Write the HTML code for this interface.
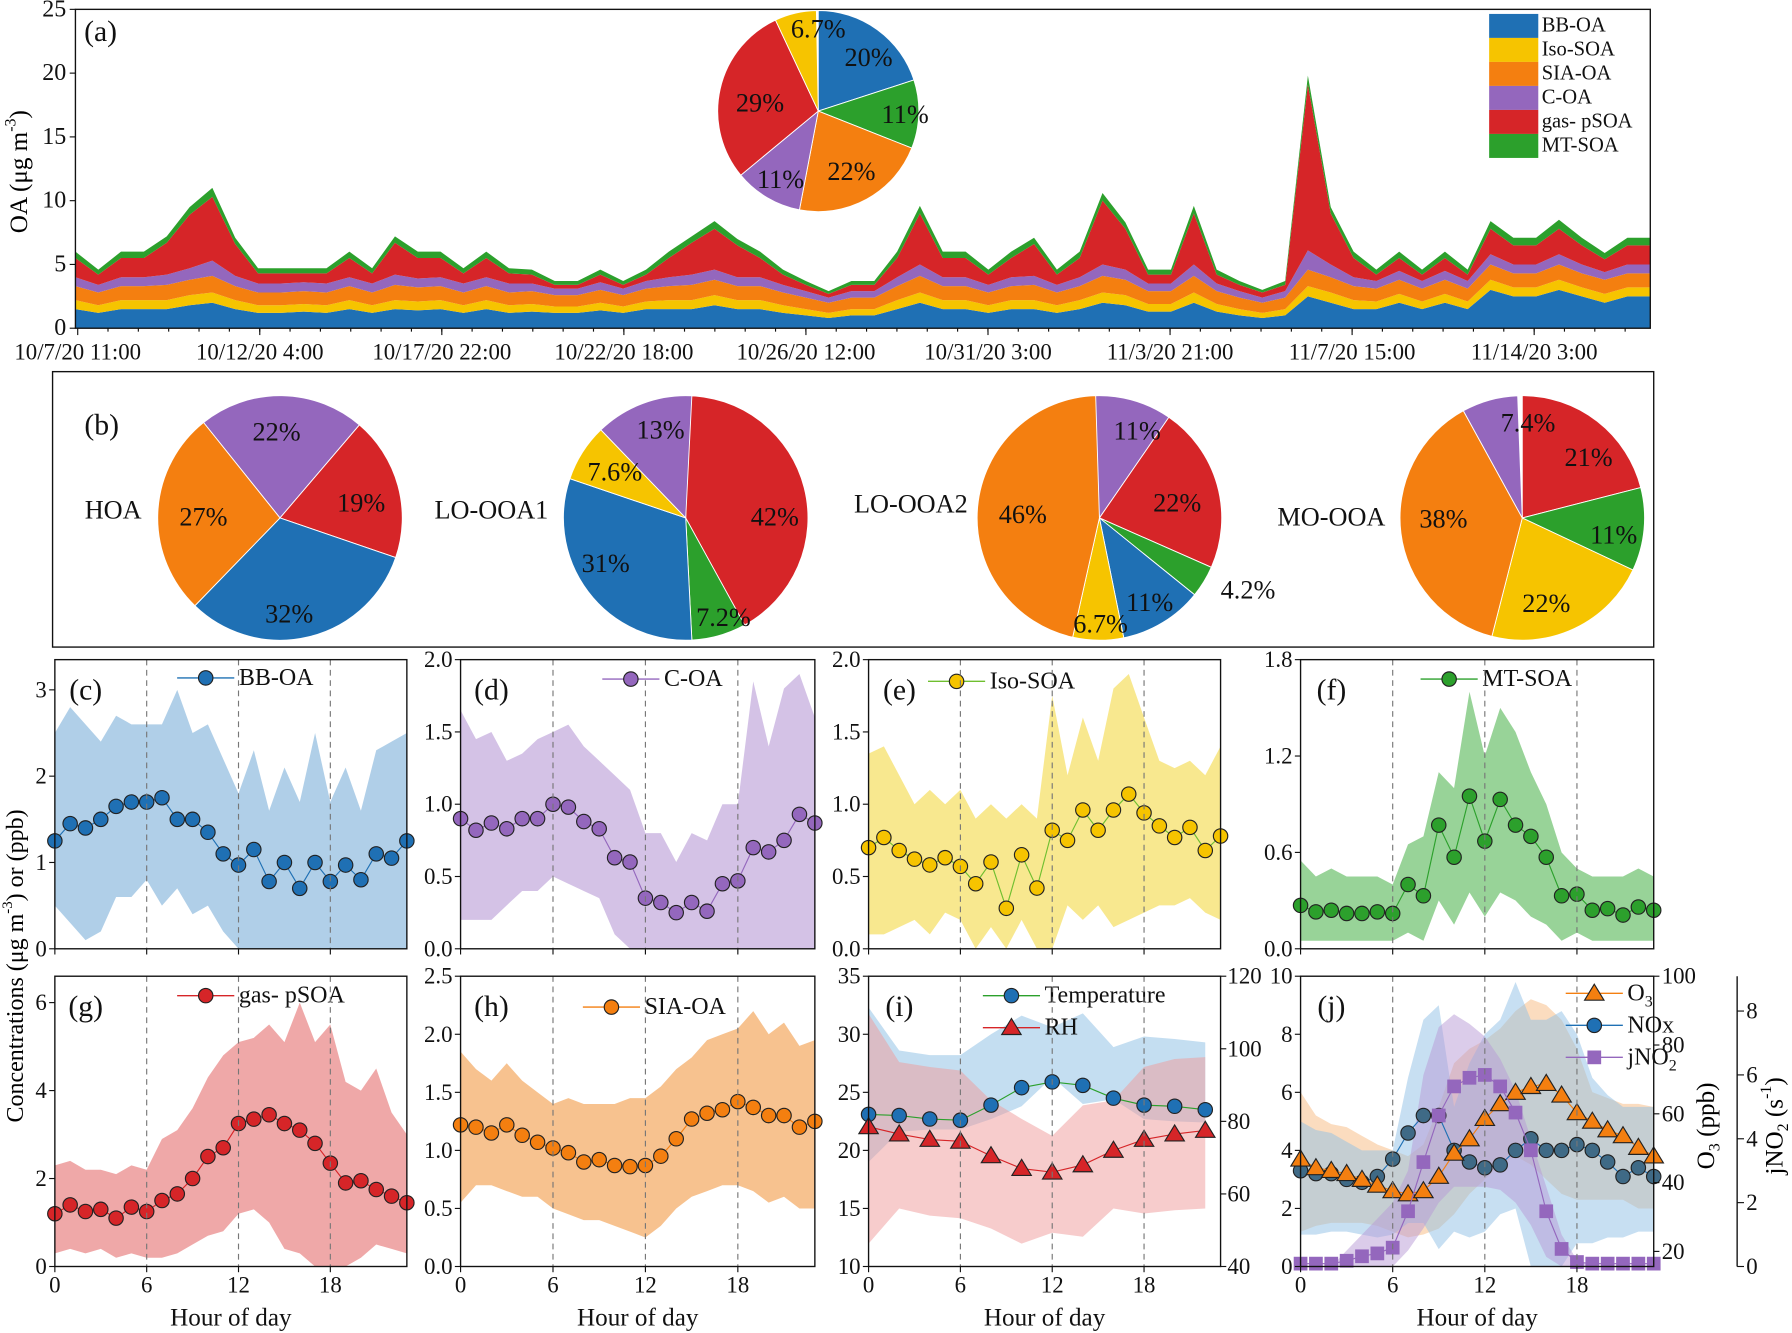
<!DOCTYPE html>
<html><head><meta charset="utf-8"><style>
html,body{margin:0;padding:0;background:#fff}
svg{display:block}
text,tspan{font-family:"Liberation Serif","Times New Roman",serif}
</style></head><body>
<svg id="chart" width="1792" height="1333" viewBox="0 0 1568 1166" xmlns="http://www.w3.org/2000/svg" font-family="Liberation Serif, serif"></svg>
<script>
// ---------- Panel (a) time series data (µg m-3), bottom to top ----------
const tsLabels=["10/7/20 11:00","10/12/20 4:00","10/17/20 22:00","10/22/20 18:00","10/26/20 12:00","10/31/20 3:00","11/3/20 21:00","11/7/20 15:00","11/14/20 3:00"];
const tsBB=[1.5,1.2,1.5,1.5,1.5,1.8,2,1.5,1.2,1.2,1.3,1.2,1.5,1.2,1.5,1.4,1.5,1.2,1.5,1.2,1.3,1.2,1.2,1.4,1.2,1.5,1.5,1.5,1.8,1.5,1.5,1.2,1,0.8,1,1,1.5,2,1.5,1.5,1.2,1.5,1.5,1.2,1.5,2,1.8,1.3,1.3,2,1.3,1,0.8,1,2.5,2,1.5,1.5,2,1.5,2,1.5,3,2.5,2.5,3,2.5,2,2.5,2.5];
const tsIso=[0.7,0.6,0.7,0.7,0.7,0.8,0.8,0.7,0.6,0.6,0.6,0.6,0.7,0.6,0.7,0.7,0.7,0.6,0.7,0.6,0.6,0.5,0.5,0.6,0.5,0.6,0.7,0.7,0.8,0.7,0.7,0.6,0.5,0.4,0.5,0.5,0.7,0.8,0.7,0.7,0.6,0.7,0.7,0.6,0.7,0.8,0.8,0.6,0.6,0.8,0.6,0.5,0.4,0.5,0.8,0.8,0.7,0.6,0.7,0.6,0.7,0.6,0.8,0.7,0.7,0.8,0.7,0.7,0.7,0.7];
const tsSIA=[1.1,1.0,1.1,1.1,1.2,1.2,1.3,1.1,1.0,1.0,1.0,1.0,1.1,1.0,1.2,1.1,1.1,1.0,1.1,1.0,1.0,0.9,0.9,1.0,0.9,1.0,1.1,1.2,1.2,1.1,1.1,1.0,0.9,0.8,0.9,0.9,1.1,1.3,1.1,1.1,1.0,1.1,1.2,1.0,1.1,1.3,1.2,1.0,1.0,1.3,1.0,0.9,0.8,0.9,1.3,1.2,1.1,1.0,1.1,1.0,1.1,1.0,1.2,1.1,1.1,1.2,1.1,1.1,1.1,1.1];
const tsCOA=[0.7,0.6,0.7,0.7,0.8,0.9,1.2,0.8,0.7,0.7,0.7,0.7,0.7,0.7,0.8,0.7,0.7,0.7,0.7,0.7,0.6,0.5,0.5,0.6,0.5,0.6,0.7,0.8,0.8,0.7,0.7,0.6,0.5,0.4,0.5,0.5,0.7,0.9,0.7,0.7,0.6,0.7,0.7,0.6,0.7,0.9,0.8,0.6,0.6,0.9,0.6,0.5,0.4,0.5,1.5,1.0,0.7,0.6,0.7,0.6,0.7,0.6,0.8,0.7,0.7,0.8,0.7,0.6,0.7,0.7];
const tsGas=[1.5,0.8,1.5,1.5,2.5,4.2,5,2.5,0.8,0.8,0.7,0.8,1.5,0.8,2.5,1.6,1.5,0.8,1.5,0.8,0.7,0.3,0.3,0.6,0.3,0.5,1.5,2.5,3.2,2.5,1.5,0.8,0.5,0.3,0.5,0.5,1.5,4,1.5,1.5,0.8,1.5,2.5,0.8,1.5,5,3.2,0.7,0.7,4,0.7,0.5,0.4,0.5,13,4,1.5,0.5,1,0.5,1,0.5,2,1.5,1.5,2,1.5,1,1.5,1.5];
const tsMT=[0.5,0.4,0.5,0.5,0.5,0.6,0.7,0.5,0.4,0.4,0.4,0.4,0.5,0.4,0.5,0.5,0.5,0.4,0.5,0.4,0.4,0.3,0.3,0.4,0.3,0.4,0.5,0.5,0.6,0.5,0.5,0.4,0.3,0.2,0.3,0.3,0.5,0.6,0.5,0.5,0.4,0.5,0.5,0.4,0.5,0.6,0.5,0.4,0.4,0.6,0.4,0.3,0.2,0.3,0.7,0.5,0.5,0.4,0.5,0.4,0.5,0.4,0.6,0.6,0.6,0.7,0.6,0.5,0.6,0.6];

// ---------- Pie data (%) ----------
const pieNames=["BB-OA","Iso-SOA","SIA-OA","C-OA","gas- pSOA","MT-SOA"];
const pieColors=["#1f70b4","#f6c400","#f47f10","#9467bd","#d62528","#2ca02c"];
const pieA=[20,6.7,22,11,29,11];
const pieHOA=[32,0,27,22,19,0];
const pieLO1=[31,7.6,0,13,42,7.2];
const pieLO2=[11,6.7,46,11,22,4.2];
const pieMO=[0,22,38,7.4,21,11];

// ---------- Diurnal data ----------
const hours=[0,1,2,3,4,5,6,7,8,9,10,11,12,13,14,15,16,17,18,19,20,21,22,23];
const bbMean=[1.25,1.45,1.4,1.5,1.65,1.7,1.7,1.75,1.5,1.5,1.35,1.1,0.97,1.15,0.78,1.0,0.7,1.0,0.78,0.97,0.8,1.1,1.05,1.25];
const bbUp=[2.5,2.8,2.6,2.4,2.7,2.6,2.6,2.6,3.0,2.5,2.6,2.2,1.8,2.3,1.6,2.1,1.7,2.5,1.7,2.1,1.6,2.3,2.4,2.5];
const bbLo=[0.5,0.3,0.1,0.2,0.6,0.6,0.8,0.5,0.7,0.4,0.5,0.2,0,0,0,0,0,0,0,0,0,0,0,0];
const coaMean=[0.9,0.82,0.87,0.83,0.9,0.9,1.0,0.98,0.88,0.83,0.63,0.6,0.35,0.32,0.25,0.32,0.26,0.45,0.47,0.7,0.67,0.75,0.93,0.87];
const coaUp=[1.65,1.45,1.5,1.3,1.35,1.45,1.5,1.55,1.4,1.3,1.2,1.1,0.8,0.8,0.6,0.8,0.75,1.0,1.0,1.85,1.4,1.8,1.9,1.6];
const coaLo=[0.2,0.2,0.2,0.3,0.4,0.4,0.5,0.45,0.4,0.35,0.1,0,0,0,0,0,0,0,0,0,0,0,0,0];
const isoMean=[0.7,0.77,0.68,0.62,0.58,0.63,0.57,0.45,0.6,0.28,0.65,0.42,0.82,0.75,0.96,0.82,0.96,1.07,0.94,0.85,0.77,0.84,0.68,0.78];
const isoUp=[1.35,1.4,1.2,1.0,1.1,1.0,1.1,0.9,1.0,0.9,1.0,0.9,1.75,1.2,1.6,1.3,1.8,1.9,1.6,1.3,1.25,1.3,1.2,1.4];
const isoLo=[0.1,0.1,0.15,0.2,0.1,0.25,0.2,0,0.15,0,0.2,0,0,0.3,0.2,0.3,0.15,0.2,0.25,0.3,0.3,0.35,0.25,0.2];
const mtMean=[0.27,0.23,0.24,0.22,0.22,0.23,0.22,0.4,0.33,0.77,0.57,0.95,0.67,0.93,0.77,0.7,0.57,0.33,0.34,0.24,0.25,0.21,0.26,0.24];
const mtUp=[0.55,0.45,0.5,0.45,0.45,0.45,0.4,0.65,0.7,1.1,1.0,1.6,1.2,1.5,1.35,1.1,0.9,0.6,0.5,0.45,0.45,0.45,0.5,0.45];
const mtLo=[0.05,0.05,0.05,0.05,0.05,0.05,0.05,0.1,0.05,0.3,0.15,0.35,0.2,0.35,0.3,0.2,0.15,0.05,0.1,0.05,0.05,0.05,0.05,0.05];
const gasMean=[1.2,1.4,1.25,1.3,1.1,1.35,1.25,1.5,1.65,2.0,2.5,2.7,3.25,3.35,3.45,3.25,3.1,2.8,2.35,1.9,1.95,1.75,1.6,1.45];
const gasUp=[2.3,2.4,2.2,2.2,2.1,2.3,2.2,2.9,3.1,3.6,4.3,4.8,5.1,5.2,5.5,5.1,6.0,5.1,5.5,4.2,4.0,4.5,3.5,3.0];
const gasLo=[0.3,0.4,0.3,0.4,0.2,0.3,0.2,0.2,0.3,0.5,0.7,0.8,1.2,1.3,1.0,0.4,0.3,0,0,0,0.2,0.5,0.4,0.3];
const siaMean=[1.22,1.2,1.15,1.22,1.13,1.07,1.02,0.98,0.9,0.92,0.87,0.86,0.87,0.95,1.1,1.27,1.32,1.35,1.42,1.37,1.3,1.3,1.2,1.25];
const siaUp=[1.85,1.7,1.6,1.75,1.6,1.5,1.4,1.45,1.4,1.4,1.4,1.45,1.45,1.55,1.7,1.8,1.95,2.0,2.05,2.2,2.0,2.1,1.9,1.95];
const siaLo=[0.55,0.7,0.7,0.65,0.6,0.6,0.5,0.45,0.4,0.4,0.35,0.3,0.25,0.35,0.5,0.6,0.65,0.7,0.7,0.65,0.55,0.6,0.5,0.5];
const metHours=[0,2,4,6,8,10,12,14,16,18,20,22];
const tempMean=[23.1,23,22.7,22.6,23.9,25.4,25.9,25.6,24.5,23.9,23.8,23.5];
const tempUp=[32.3,28.6,28.2,28.2,30,31.6,30.6,31.8,28.9,29.8,29.6,29.3];
const tempLo=[19,21.6,21.8,21.8,22.7,23.8,26.3,24,24.4,22.7,22.5,22.4];
const rhMean=[78.5,76.5,75,74.5,70.5,67,66,68,72,75,76.5,77.5];
const rhUp=[109.6,96.3,95,94,85.8,80.7,76,84.4,85.8,95,97.2,97.7];
const rhLo=[46.3,56,54,53.3,50.5,46.3,49.3,48.2,56,54.6,55.5,56];
const o3Mean=[46.8,44.3,43.5,42.6,40.9,39.2,37.6,36.7,37.6,41.8,48.5,52.7,58.6,62.9,66.2,67.9,68.8,65.4,60.3,57.8,55.3,53.6,50.2,47.7];
const o3Up=[66.3,59.5,57,56.1,53.6,51.1,49.4,47.7,51.1,62,74.7,78.9,81.4,84.8,89.9,93.3,91.6,87.3,78.9,66.3,64.6,62.9,62.9,62];
const o3Lo=[25.7,27.4,28.3,28.3,28.3,27.4,25.7,24.1,24.9,26.6,30.8,36.7,40.9,45.2,47.7,45.2,40.9,36.7,35,35,35,35,32.5,32.5];
const noxMean=[3.3,3.2,3.2,3.0,2.9,3.1,3.7,4.6,5.2,5.2,4.0,3.6,3.4,3.5,4.0,4.4,4.0,4.0,4.2,4.0,3.6,3.1,3.4,3.1];
const noxUp=[5,4.7,4.6,4.3,4.0,4.0,4.0,6.5,8.5,9.0,5.5,7,8,8.5,9.8,8.5,8.5,8.8,8.0,6.5,5.9,5.5,5.5,5.5];
const noxLo=[1.1,1.1,1.2,1.2,1.1,1.0,1.1,1.5,1.5,0.6,1.2,1.0,1.2,1.8,2.0,0,0,0,0.8,0.8,1.0,1.0,1.2,1.2];
const jMean=[0.09,0.09,0.09,0.18,0.32,0.41,0.59,1.73,3.27,4.73,5.64,5.91,6.0,5.64,4.82,3.64,1.73,0.55,0.14,0.09,0.09,0.09,0.09,0.09];
const jUp=[0,0,0,0.5,1.0,1.5,2.0,3,6,7.5,7.9,7.6,7.2,6.5,5.5,4,2.5,1,0.2,0,0,0,0,0];
const jLo=[0,0,0,0,0,0,0,0.5,1.2,2,2.5,2.5,2.5,2.4,2,1.3,0.3,0,0,0,0,0,0,0];

const NS='http://www.w3.org/2000/svg';
const svg=document.getElementById('chart');
function mk(tag,attrs,parent){const e=document.createElementNS(NS,tag);for(const k in attrs)e.setAttribute(k,attrs[k]);(parent||svg).appendChild(e);return e;}
function txt(s,x,y,size,anchor,parent){const t=mk('text',{x:x,y:y,'font-size':size,'text-anchor':anchor||'middle','dominant-baseline':'central',fill:'#111','font-family':'Liberation Serif, serif'},parent);t.textContent=s;return t;}

// ================= Panel (a) =================
const A={x0:66,x1:1444,y0:8,y1:287};
const ga=mk('g',{});


const ax=i=>A.x0+i*(A.x1-A.x0)/(tsBB.length-1);
const ay=v=>A.y1-v*(A.y1-A.y0)/25;
const layers=[tsBB,tsIso,tsSIA,tsCOA,tsGas,tsMT];
const layerNames=['bb-oa-area','iso-soa-area','sia-oa-area','c-oa-area','gas-psoa-area','mt-soa-area'];
let cum=tsBB.map(()=>0);
layers.forEach((arr,k)=>{
  const top=cum.map((c,i)=>c+arr[i]);
  let pts=[];
  top.forEach((v,i)=>pts.push(ax(i).toFixed(1)+','+ay(v).toFixed(1)));
  for(let i=cum.length-1;i>=0;i--)pts.push(ax(i).toFixed(1)+','+ay(cum[i]).toFixed(1));
  const p=mk('polygon',{points:pts.join(' '),fill:pieColors[k]},ga);
  
  
  cum=top;
});
const fa=mk('rect',{x:A.x0,y:A.y0,width:A.x1-A.x0,height:A.y1-A.y0,fill:'none',stroke:'#111','stroke-width':1.2},ga);


[0,5,10,15,20,25].forEach(v=>{
  mk('line',{x1:A.x0-5,x2:A.x0,y1:ay(v),y2:ay(v),stroke:'#111'},ga);
  const t=txt(String(v),A.x0-8,ay(v),21,'end',ga);
  
  
});
tsLabels.forEach((s,i)=>{
  const x=68+i*159.3;
  mk('line',{x1:x,x2:x,y1:A.y1,y2:A.y1+6,stroke:'#111'},ga);
  const t=txt(s,x,308,20,'middle',ga);
  
  
});
for(let x=68+26.5;x<A.x1;x+=26.55){mk('line',{x1:x,x2:x,y1:A.y1,y2:A.y1+3,stroke:'#111'},ga);}
const ayt=mk('text',{x:0,y:0,'font-size':22,'text-anchor':'middle','dominant-baseline':'central','font-family':'Liberation Serif, serif',transform:'translate(17,150) rotate(-90)'},ga);
ayt.innerHTML='OA (μg m<tspan baseline-shift="super" font-size="14">-3</tspan>)';


const la=txt('(a)',88,28,26,'middle',ga);


pieNames.forEach((n,k)=>{
  const r=mk('rect',{x:1303,y:12+k*21,width:43,height:21,fill:pieColors[k]},ga);
  
  
  const t=txt(n,1349,22+k*21,18,'start',ga);
  
  
});

// ================= Pies =================
function pieOrdered(name,cx,cy,r,start,order,vals,labels){
  const g=mk('g',{});
  
  
  let a=start;
  order.forEach(k=>{
    const v=vals[k];
    if(v<=0)return;
    const a2=a+v*3.6;
    const rad=d=>d*Math.PI/180;
    const x1=cx+r*Math.sin(rad(a)),y1=cy-r*Math.cos(rad(a));
    const x2=cx+r*Math.sin(rad(a2)),y2=cy-r*Math.cos(rad(a2));
    const large=(a2-a)>180?1:0;
    const p=mk('path',{d:`M${cx},${cy} L${x1.toFixed(2)},${y1.toFixed(2)} A${r},${r} 0 ${large} 1 ${x2.toFixed(2)},${y2.toFixed(2)} Z`,fill:pieColors[k],stroke:'#fff','stroke-width':0.8},g);
    
    
    a=a2;
  });
  labels.forEach(l=>{
    const t=txt(l[0],l[1],l[2],23,'middle',g);
    
    
  });
  return g;
}
pieOrdered('pie-total-oa',716,97,88,0,[0,5,2,3,4,1],pieA,[['20%',760,50],['11%',792,100],['22%',745,150],['11%',683,157],['29%',665,90],['6.7%',716,25]]);
const fb=mk('rect',{x:46,y:325,width:1401,height:241,fill:'none',stroke:'#111','stroke-width':1.2});


const lb=txt('(b)',89,372,26);


pieOrdered('pie-hoa',245,453,107,-38.7,[3,4,0,2],pieHOA,[['22%',242,378],['19%',316,440],['32%',253,537],['27%',178,452]]);
pieOrdered('pie-lo-ooa1',600,453,107,0,[4,5,0,1,3],pieLO1,[['13%',578,376],['42%',678,452],['7.2%',633,540],['31%',530,493],['7.6%',538,413]]);
pieOrdered('pie-lo-ooa2',962,453,107,-5,[3,4,5,0,1,2],pieLO2,[['11%',995,377],['22%',1030,440],['4.2%',1092,516],['11%',1006,527],['6.7%',963,546],['46%',895,450]]);
pieOrdered('pie-mo-ooa',1332,453,107,0,[4,5,1,2,3],pieMO,[['7.4%',1337,370],['21%',1390,400],['11%',1412,468],['22%',1353,528],['38%',1263,454]]);
[['HOA',99,446],['LO-OOA1',430,446],['LO-OOA2',797,441],['MO-OOA',1165,452]].forEach(l=>{
  const t=txt(l[0],l[1],l[2],23);
  
  
});

// ================= Diurnal panels =================
function panel(name,letter,bx,by,bw,bh,ymin,ymax,ticks,showX){
  const g=mk('g',{});
  
  
  const sx=h=>bx+h/23*bw;
  const sy=v=>by+bh-(v-ymin)/(ymax-ymin)*bh;
  return {g,sx,sy,bx,by,bw,bh,letter,ticks,showX};
}
function finish(P,fmt){
  const {g,sx,sy,bx,by,bw,bh}=P;
  [6,12,18].forEach(h=>{
    const l=mk('line',{x1:sx(h),x2:sx(h),y1:by,y2:by+bh,stroke:'#777','stroke-dasharray':'5,4','stroke-width':1},g);
    
    
  });
  const f=mk('rect',{x:bx,y:by,width:bw,height:bh,fill:'none',stroke:'#111','stroke-width':1.2},g);
  
  
  P.ticks.forEach(v=>{
    mk('line',{x1:bx-5,x2:bx,y1:sy(v),y2:sy(v),stroke:'#111'},g);
    const t=txt(fmt(v),bx-7,sy(v),20,'end',g);
    
    
  });
  [0,6,12,18].forEach(h=>{
    mk('line',{x1:sx(h),x2:sx(h),y1:by+bh,y2:by+bh+5,stroke:'#111'},g);
    if(P.showX){
      const t=txt(String(h),sx(h),by+bh+16,20,'middle',g);
      
      
    }
  });
  if(P.showX){
    const t=txt('Hour of day',bx+bw/2,by+bh+45,22,'middle',g);
    
    
  }
  const lt=txt(P.letter,bx+27,by+27,26,'middle',g);
  
  
}
function band(P,hs,up,lo,sy,color,op){
  let pts=hs.map((h,i)=>P.sx(h).toFixed(1)+','+sy(up[i]).toFixed(1));
  for(let i=hs.length-1;i>=0;i--)pts.push(P.sx(hs[i]).toFixed(1)+','+sy(lo[i]).toFixed(1));
  const p=mk('polygon',{points:pts.join(' '),fill:color,'fill-opacity':op,stroke:'none'},P.g);
  
  
}
function marker(g,shape,x,y,fill){
  let m;
  if(shape==='c')m=mk('circle',{cx:x,cy:y,r:6.3,fill:fill,stroke:'#222','stroke-width':1},g);
  else if(shape==='t')m=mk('polygon',{points:`${x},${y-8} ${x-8.5},${y+6} ${x+8.5},${y+6}`,fill:fill,stroke:'#222','stroke-width':1},g);
  else m=mk('rect',{x:x-6,y:y-6,width:12,height:12,fill:fill,stroke:'none'},g);
  return m;
}
function series(P,hs,vals,sy,lineColor,shape,fill){
  const d=hs.map((h,i)=>(i?'L':'M')+P.sx(h).toFixed(1)+','+sy(vals[i]).toFixed(1)).join(' ');
  const l=mk('path',{d:d,fill:'none',stroke:lineColor,'stroke-width':1},P.g);
  
  
  hs.forEach((h,i)=>{
    const m=marker(P.g,shape,P.sx(h),sy(vals[i]),fill);
    
    
  });
}
function legend(P,x,y,s,lineColor,shape,fill){
  const l=mk('line',{x1:x,x2:x+50,y1:y,y2:y,stroke:lineColor,'stroke-width':1.2},P.g);
  
  
  const m=marker(P.g,shape,x+25,y,fill);
  
  
  const t=mk('text',{x:x+54,y:y,'font-size':21,'dominant-baseline':'central',fill:'#111','font-family':'Liberation Serif, serif'},P.g);
  t.innerHTML=s;
  
  
}
const f1=v=>v.toFixed(1), f0=v=>String(v);
const rowTop=577,rowH=253,row2=854,row2H=254;
let P=panel('panel-c-bb-oa','(c)',48,rowTop,308,rowH,0,3.35,[0,1,2,3],false);
band(P,hours,bbUp,bbLo,P.sy,'#6fa8d6',0.55);
series(P,hours,bbMean,P.sy,'#1f70b4','c','#1f70b4');
legend(P,155,593,'BB-OA','#1f70b4','c','#1f70b4');finish(P,f0);
P=panel('panel-d-c-oa','(d)',403,rowTop,310,rowH,0,2.0,[0,0.5,1,1.5,2],false);
band(P,hours,coaUp,coaLo,P.sy,'#b79ad6',0.6);
series(P,hours,coaMean,P.sy,'#9467bd','c','#9467bd');
legend(P,527,594,'C-OA','#9467bd','c','#9467bd');finish(P,f1);
P=panel('panel-e-iso-soa','(e)',760,rowTop,308,rowH,0,2.0,[0,0.5,1,1.5,2],false);
band(P,hours,isoUp,isoLo,P.sy,'#f5e06a',0.75);
series(P,hours,isoMean,P.sy,'#6fbf2f','c','#f6c400');
legend(P,812,596,'Iso-SOA','#6fbf2f','c','#f6c400');finish(P,f1);
P=panel('panel-f-mt-soa','(f)',1138,rowTop,309,rowH,0,1.8,[0,0.6,1.2,1.8],false);
band(P,hours,mtUp,mtLo,P.sy,'#6cc06c',0.7);
series(P,hours,mtMean,P.sy,'#2ca02c','c','#2ca02c');
legend(P,1243,594,'MT-SOA','#2ca02c','c','#2ca02c');finish(P,f1);
P=panel('panel-g-gas-psoa','(g)',48,row2,308,row2H,0,6.6,[0,2,4,6],true);
band(P,hours,gasUp,gasLo,P.sy,'#e77a7a',0.65);
series(P,hours,gasMean,P.sy,'#d62528','c','#d62528');
legend(P,155,871,'gas- pSOA','#d62528','c','#d62528');finish(P,f0);
P=panel('panel-h-sia-oa','(h)',403,row2,310,row2H,0,2.5,[0,0.5,1,1.5,2,2.5],true);
band(P,hours,siaUp,siaLo,P.sy,'#f3a860',0.7);
series(P,hours,siaMean,P.sy,'#f47f10','c','#f47f10');
legend(P,510,881,'SIA-OA','#f47f10','c','#f47f10');finish(P,f1);
P=panel('panel-i-met','(i)',760,row2,308,row2H,10,35,[10,15,20,25,30,35],true);
const syRH=v=>P.by+P.bh-(v-40)/80*P.bh;
band(P,metHours,tempUp,tempLo,P.sy,'#9cc8e8',0.6);
band(P,metHours,rhUp,rhLo,syRH,'#f09a9a',0.5);
series(P,metHours,tempMean,P.sy,'#2ca02c','c','#1f70b4');
series(P,metHours,rhMean,syRH,'#d62528','t','#d62528');
legend(P,860,871,'Temperature','#2ca02c','c','#1f70b4');
legend(P,860,899,'RH','#d62528','t','#d62528');
finish(P,f0);
[40,60,80,100,120].forEach(v=>{
  mk('line',{x1:1068,x2:1073,y1:syRH(v),y2:syRH(v),stroke:'#111'},P.g);
  const t=txt(String(v),1074,syRH(v),20,'start',P.g);
  
  
});
P=panel('panel-j-gases','(j)',1138,row2,309,row2H,0,10,[0,2,4,6,8,10],true);
const syO3=v=>P.by+P.bh-((v-20)/80*9.48+0.52)/10*P.bh;
const syJ=v=>P.by+P.bh-(v*1.1)/10*P.bh;
band(P,hours,o3Up,o3Lo,syO3,'#f7c08a',0.55);
band(P,hours,noxUp,noxLo,P.sy,'#8fc0e6',0.5);
band(P,hours,jUp,jLo,syJ,'#b79ad6',0.5);
series(P,hours,noxMean,P.sy,'#1f70b4','c','#3f6a86');
series(P,hours,o3Mean,syO3,'#f47f10','t','#f47f10');
series(P,hours,jMean,syJ,'#9467bd','s','#9467bd');
legend(P,1370,869,'O<tspan baseline-shift="sub" font-size="14">3</tspan>','#f47f10','t','#f47f10');
legend(P,1370,897,'NOx','#1f70b4','c','#1f70b4');
legend(P,1370,925,'jNO<tspan baseline-shift="sub" font-size="14">2</tspan>','#9467bd','s','#9467bd');
finish(P,f0);
[20,40,60,80,100].forEach(v=>{
  mk('line',{x1:1447,x2:1452,y1:syO3(v),y2:syO3(v),stroke:'#111'},P.g);
  const t=txt(String(v),1454,syO3(v),20,'start',P.g);
  
  
});
const jAx=mk('line',{x1:1520,x2:1520,y1:854,y2:1108,stroke:'#111','stroke-width':1.2},P.g);


[0,2,4,6,8].forEach(v=>{
  mk('line',{x1:1520,x2:1526,y1:syJ(v),y2:syJ(v),stroke:'#111'},P.g);
  const t=txt(String(v),1528,syJ(v),20,'start',P.g);
  
  
});
const o3t=mk('text',{'font-size':22,'text-anchor':'middle','dominant-baseline':'central','font-family':'Liberation Serif, serif',transform:'translate(1493,985) rotate(-90)'});
o3t.innerHTML='O<tspan baseline-shift="sub" font-size="14">3</tspan> (ppb)';


const jt=mk('text',{'font-size':22,'text-anchor':'middle','dominant-baseline':'central','font-family':'Liberation Serif, serif',transform:'translate(1553,985) rotate(-90)'});
jt.innerHTML='jNO<tspan baseline-shift="sub" font-size="14">2</tspan> (s<tspan baseline-shift="super" font-size="14">-1</tspan>)';


const yt=mk('text',{'font-size':21,'text-anchor':'middle','dominant-baseline':'central','font-family':'Liberation Serif, serif',transform:'translate(14,845) rotate(-90)'});
yt.innerHTML='Concentrations (μg m<tspan baseline-shift="super" font-size="13">-3</tspan>) or (ppb)';


</script>
</body></html>
